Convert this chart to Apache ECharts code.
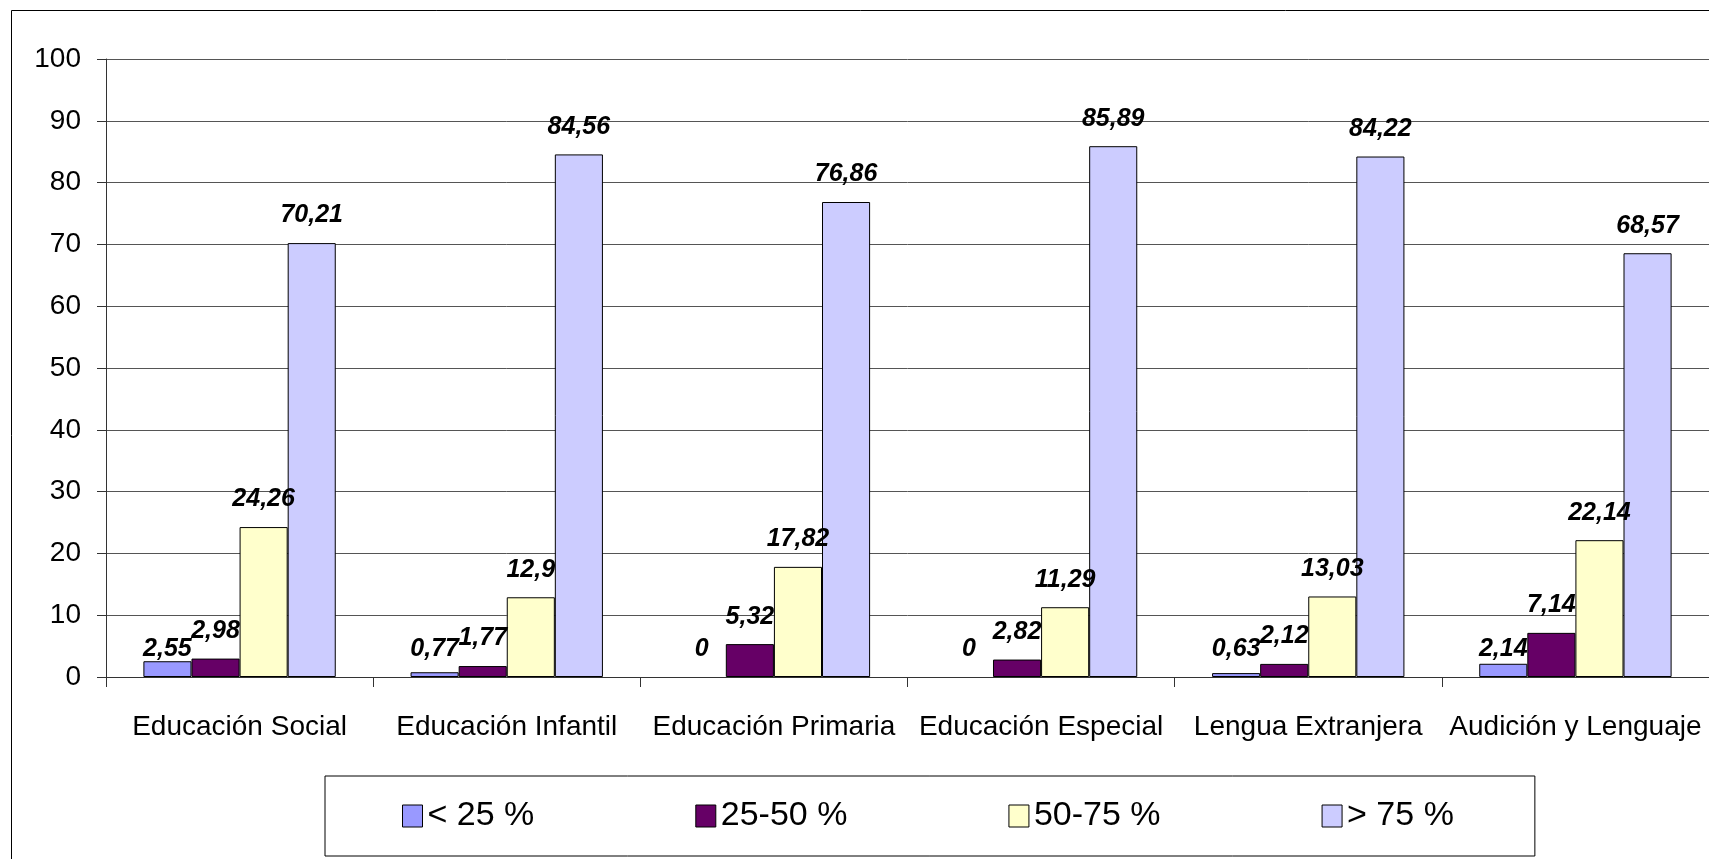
<!DOCTYPE html>
<html>
<head>
<meta charset="utf-8">
<script src="https://cdn.jsdelivr.net/npm/echarts@6/dist/echarts.min.js"></script>
<style>
html,body{margin:0;padding:0;background:#fff;}
#chart{width:1709px;height:859px;}
</style>
</head>
<body>
<div id="chart"></div>
<script>
var categories = ['Educación Social', 'Educación Infantil', 'Educación Primaria', 'Educación Especial', 'Lengua Extranjera', 'Audición y Lenguaje'];
var seriesNames = ['< 25 %', '25-50 %', '50-75 %', '> 75 %'];
var below25 = [2.55, 0.77, 0, 0, 0.63, 2.14];
var from25to50 = [2.98, 1.77, 5.32, 2.82, 2.12, 7.14];
var from50to75 = [24.26, 12.9, 17.82, 11.29, 13.03, 22.14];
var above75 = [70.21, 84.56, 76.86, 85.89, 84.22, 68.57];
var yTicks = [0, 10, 20, 30, 40, 50, 60, 70, 80, 90, 100];

var FONT = '"Liberation Sans", Arial, sans-serif';
var colors = ['#9999FF', '#660066', '#FFFFCC', '#CCCCFF'];
var allData = [below25, from25to50, from50to75, above75];

function fmt(p){ return String(p.value).replace('.', ','); }

var series = allData.map(function(d, i){
  return {
    name: seriesNames[i],
    type: 'bar',
    data: d.map(function(v){
      return v === 0 ? {value: v, itemStyle: {borderWidth: 0}} : v;
    }),
    barGap: '0%',
    barCategoryGap: '28%',
    itemStyle: {color: colors[i], borderColor: '#000', borderWidth: 1},
    label: {
      show: true,
      position: i === 0 ? 'insideBottom' : 'top',
      distance: 15,
      formatter: fmt,
      color: '#000',
      fontFamily: FONT,
      fontSize: 25,
      fontWeight: 'bold',
      fontStyle: 'italic'
    },
    emphasis: {disabled: true}
  };
});

var chart = echarts.init(document.getElementById('chart'), null, {renderer: 'canvas'});
chart.setOption({
  animation: false,
  backgroundColor: '#fff',
  grid: {left: 106, top: 59, bottom: 182, right: -6, containLabel: false},
  graphic: [{
    type: 'rect',
    shape: {x: 11.5, y: 10.5, width: 2000, height: 2000},
    style: {fill: 'none', stroke: '#000', lineWidth: 1},
    silent: true, z: -10
  }],
  legend: {
    data: seriesNames,
    left: 325,
    top: 776,
    orient: 'horizontal',
    padding: [23, 81, 23, 77],
    itemGap: 161,
    itemWidth: 20,
    itemHeight: 22,
    icon: 'rect',
    borderColor: '#000',
    borderWidth: 1,
    itemStyle: {borderColor: '#000', borderWidth: 1},
    textStyle: {fontFamily: FONT, fontSize: 34, color: '#000'},
    selectedMode: false
  },
  xAxis: {
    type: 'category',
    data: categories,
    axisLine: {show: true, lineStyle: {color: '#333', width: 1}},
    axisTick: {show: true, length: 10, alignWithLabel: false, lineStyle: {color: '#333'}},
    axisLabel: {margin: 36, fontFamily: FONT, fontSize: 28, color: '#000', interval: 0},
    splitLine: {show: false}
  },
  yAxis: {
    type: 'value',
    min: yTicks[0],
    max: yTicks[yTicks.length - 1],
    interval: yTicks[1] - yTicks[0],
    axisLine: {show: true, lineStyle: {color: '#333', width: 1}},
    axisTick: {show: true, length: 9, lineStyle: {color: '#333'}},
    axisLabel: {margin: 25, fontFamily: FONT, fontSize: 28, color: '#000'},
    splitLine: {show: true, lineStyle: {color: '#555', width: 1}}
  },
  series: series
});
</script>
</body>
</html>
